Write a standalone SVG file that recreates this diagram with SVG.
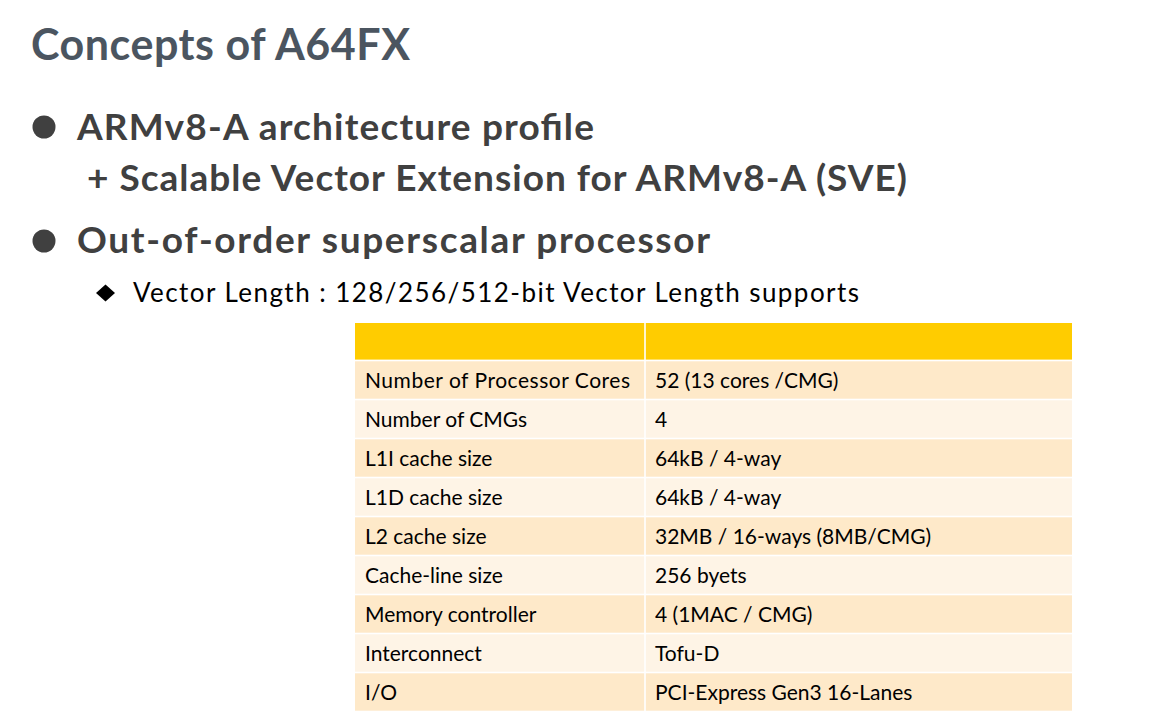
<svg xmlns="http://www.w3.org/2000/svg" width="1173" height="721" viewBox="0 0 1173 721">
<style>
.title{font-family:Lato,"Liberation Sans",sans-serif;font-weight:bold;font-size:43px;fill:#4B5560}
.b1{font-family:Lato,"Liberation Sans",sans-serif;font-weight:bold;font-size:37px;fill:#404040}
.b2{font-family:Lato,"Liberation Sans",sans-serif;font-size:26px;fill:#000}
.cell{font-family:Lato,"Liberation Sans",sans-serif;font-size:21px;fill:#000}
.dark{fill:#FEE9C9}
.light{fill:#FEF4E6}
</style>
<rect width="1173" height="721" fill="#fff"/>
<g id="title"><text class="title" x="31" y="60" textLength="379" lengthAdjust="spacing">Concepts of A64FX</text></g>
<g id="bullets">
<circle cx="44" cy="127" r="11.5" fill="#404040"/>
<text class="b1" x="77" y="140" textLength="517" lengthAdjust="spacing">ARMv8-A architecture profile</text>
<text class="b1" x="87" y="191" textLength="820" lengthAdjust="spacing">+ Scalable Vector Extension for ARMv8-A (SVE)</text>
<circle cx="44" cy="241" r="11.5" fill="#404040"/>
<text class="b1" x="77" y="253" textLength="633" lengthAdjust="spacing">Out-of-order superscalar processor</text>
<polygon points="105.5,284.5 115,293 105.5,301.5 96,293" fill="#000"/>
<text class="b2" x="133" y="302" textLength="726" lengthAdjust="spacing">Vector Length : 128/256/512-bit Vector Length supports</text>
</g>
<g id="table">
<rect x="355" y="323" width="717" height="36.6" fill="#FFCC00"/>
<rect class="dark" x="355" y="361.3" width="717" height="37.4"/>
<rect class="light" x="355" y="400.3" width="717" height="37.4"/>
<rect class="dark" x="355" y="439.3" width="717" height="37.4"/>
<rect class="light" x="355" y="478.3" width="717" height="37.4"/>
<rect class="dark" x="355" y="517.3" width="717" height="37.4"/>
<rect class="light" x="355" y="556.3" width="717" height="37.4"/>
<rect class="dark" x="355" y="595.3" width="717" height="37.4"/>
<rect class="light" x="355" y="634.3" width="717" height="37.4"/>
<rect class="dark" x="355" y="673.3" width="717" height="37.4"/>
<rect x="644.2" y="323" width="1.6" height="388" fill="#fff"/>
<text class="cell" x="365" y="387.7" textLength="265" lengthAdjust="spacing">Number of Processor Cores</text>
<text class="cell" x="655" y="387.7">52 (13 cores /CMG)</text>
<text class="cell" x="365" y="426.7">Number of CMGs</text>
<text class="cell" x="655" y="426.7">4</text>
<text class="cell" x="365" y="465.7">L1I cache size</text>
<text class="cell" x="655" y="465.7">64kB / 4-way</text>
<text class="cell" x="365" y="504.7">L1D cache size</text>
<text class="cell" x="655" y="504.7">64kB / 4-way</text>
<text class="cell" x="365" y="543.7">L2 cache size</text>
<text class="cell" x="655" y="543.7">32MB / 16-ways (8MB/CMG)</text>
<text class="cell" x="365" y="582.7">Cache-line size</text>
<text class="cell" x="655" y="582.7">256 byets</text>
<text class="cell" x="365" y="621.7">Memory controller</text>
<text class="cell" x="655" y="621.7">4 (1MAC / CMG)</text>
<text class="cell" x="365" y="660.7">Interconnect</text>
<text class="cell" x="655" y="660.7">Tofu-D</text>
<text class="cell" x="365" y="699.7">I/O</text>
<text class="cell" x="655" y="699.7">PCI-Express Gen3 16-Lanes</text>
</g>
</svg>
